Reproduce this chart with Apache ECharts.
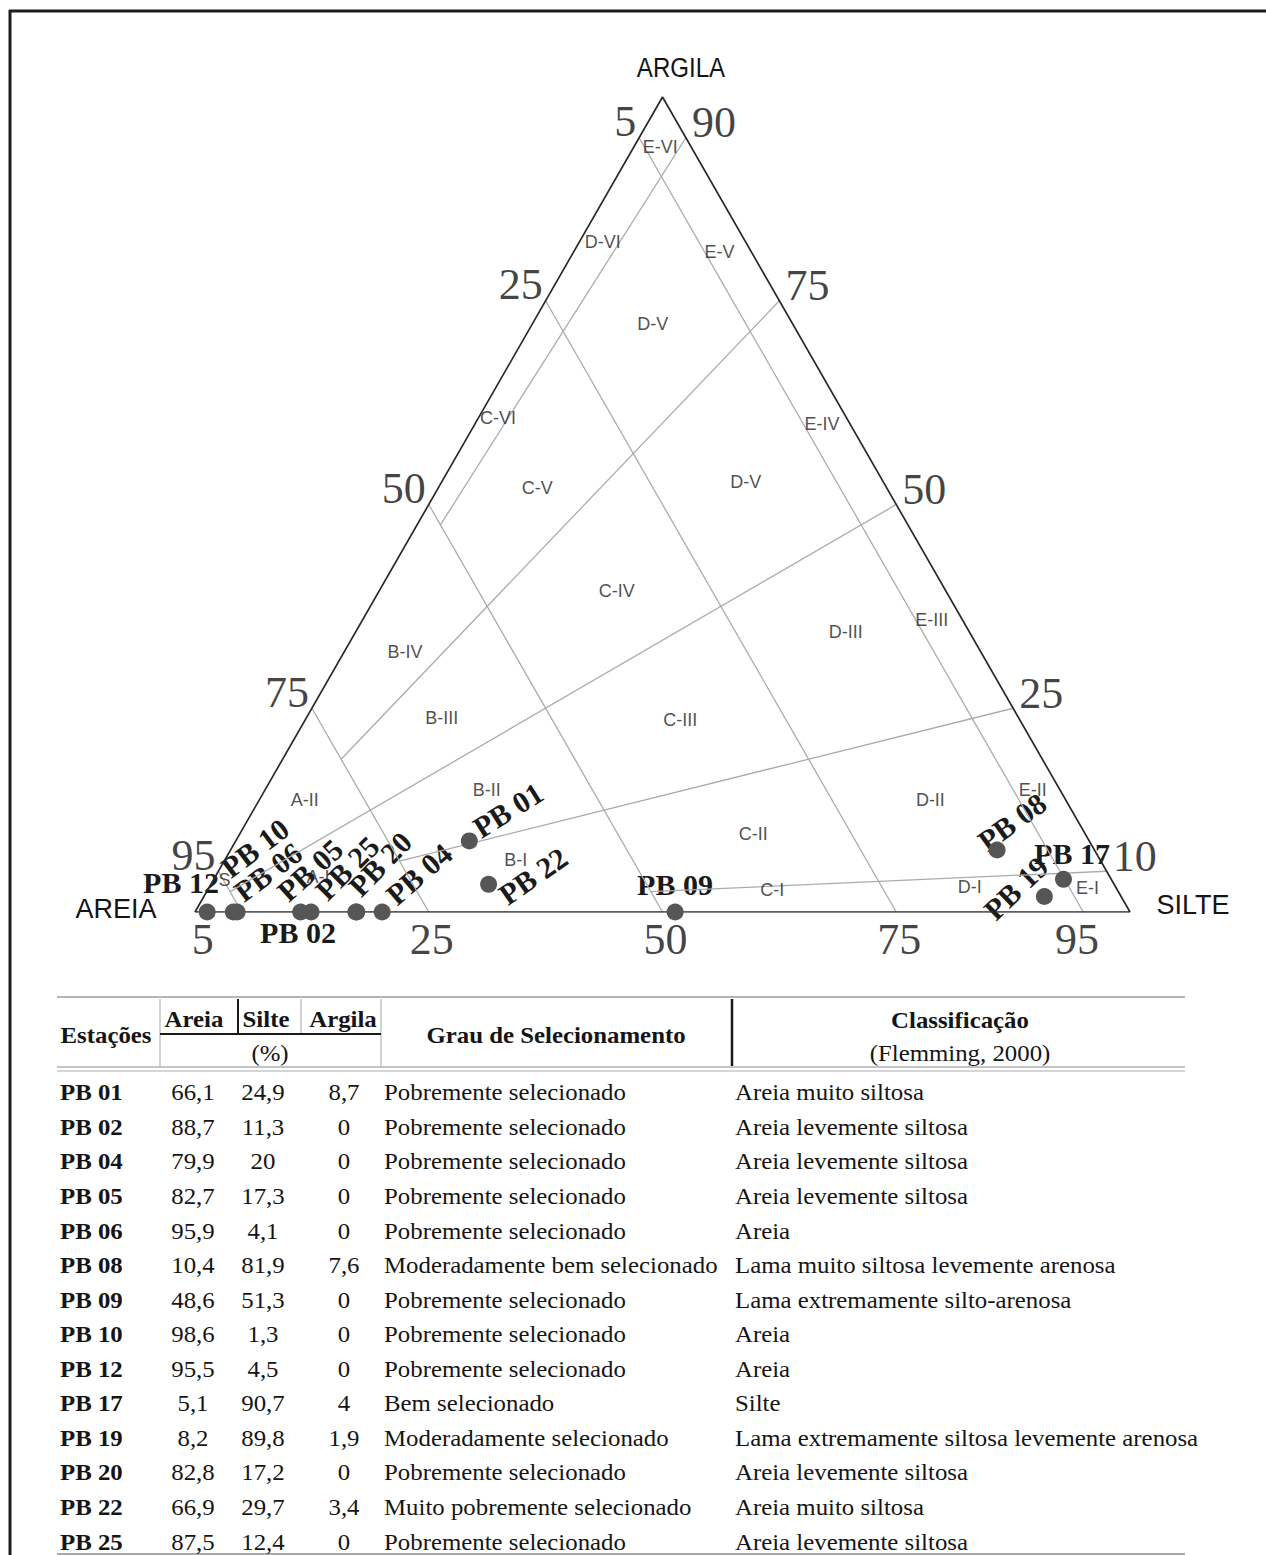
<!DOCTYPE html>
<html>
<head>
<meta charset="utf-8">
<script src="https://cdn.jsdelivr.net/npm/echarts@6/dist/echarts.min.js"></script>
<style>
  html, body { margin: 0; padding: 0; background: #ffffff; }
  #chart { width: 1266px; height: 1555px; }
</style>
</head>
<body>
<div id="chart"></div>
<script>
// Grain-size composition of the stations (%)
const stations = ['PB 01','PB 02','PB 04','PB 05','PB 06','PB 08','PB 09','PB 10','PB 12','PB 17','PB 19','PB 20','PB 22','PB 25'];
const areia  = [66.1, 88.7, 79.9, 82.7, 95.9, 10.4, 48.6, 98.6, 95.5, 5.1, 8.2, 82.8, 66.9, 87.5];
const silte  = [24.9, 11.3, 20,   17.3, 4.1,  81.9, 51.3, 1.3,  4.5,  90.7, 89.8, 17.2, 29.7, 12.4];
const argila = [8.7,  0,    0,    0,    0,    7.6,  0,    0,    0,    4,    1.9,  0,    3.4,  0];
const selecionamento = [
  'Pobremente selecionado', 'Pobremente selecionado', 'Pobremente selecionado',
  'Pobremente selecionado', 'Pobremente selecionado', 'Moderadamente bem selecionado',
  'Pobremente selecionado', 'Pobremente selecionado', 'Pobremente selecionado',
  'Bem selecionado', 'Moderadamente selecionado', 'Pobremente selecionado',
  'Muito pobremente selecionado', 'Pobremente selecionado'
];
const classificacao = [
  'Areia muito siltosa', 'Areia levemente siltosa', 'Areia levemente siltosa',
  'Areia levemente siltosa', 'Areia', 'Lama muito siltosa levemente arenosa',
  'Lama extremamente silto-arenosa', 'Areia', 'Areia', 'Silte',
  'Lama extremamente siltosa levemente arenosa', 'Areia levemente siltosa',
  'Areia muito siltosa', 'Areia levemente siltosa'
];

// Flemming (2000) class limits
const sandLimits = [95, 75, 50, 25, 5];                 // sand % (classes S, A, B, C, D, E)
const mudRatioLimits = [0.5, 0.25, 0.75, 0.05, 0.95];  // clay share of the mud fraction (I..VI)
const mudRatioStartSand = [95, 75, 75, 50, 50];        // sand % where each ratio line begins

// Edge tick labels
const leftTickText = ['5', '25', '50', '75', '95'];     // sand
const leftTickAt = [5, 25, 50, 75, 95];
const rightTickText = ['90', '75', '50', '25', '10'];   // clay
const rightTickAt = [95, 75, 50, 25, 5];
const bottomTickText = ['5', '25', '50', '75', '95'];   // silt
const bottomTickAt = [0.5, 25, 50, 75, 94];

// Zone names, anchored by [silt %, clay %]
const zoneNames = ['E-VI','D-VI','E-V','D-V','C-VI','C-V','D-V','E-IV','C-IV','B-IV','D-III','E-III','B-III','C-III','A-II','B-II','D-II','E-II','C-II','B-I','C-I','D-I','E-I','S','A-I'];
const zoneAnchors = [[2.8,93.9],[2.5,82.2],[15.6,81.0],[12.9,72.1],[2.1,60.6],[10.6,52.0],[32.5,52.8],[37.1,59.9],[25.4,39.4],[6.5,31.9],[52.4,34.4],[60.9,35.8],[14.5,23.8],[40.1,23.6],[4.9,13.7],[23.7,15.0],[71.8,13.7],[82.1,15.0],[54.9,9.6],[31.1,6.4],[60.4,2.7],[81.3,3.1],[94.0,2.9],[1.2,3.9],[11.0,4.3]];

// Station label placement: [x, y, rotation in degrees]
const stationLabelLayout = {
  'PB 12': [181, 882, 0],   'PB 10': [255, 848, 37],  'PB 06': [268, 872, 37],
  'PB 05': [310, 870, 42],  'PB 25': [347, 868, 45],  'PB 20': [380, 864, 46],
  'PB 04': [419, 874, 41],  'PB 01': [508, 810, 32],  'PB 22': [533, 876, 35],
  'PB 02': [298, 932, 0],   'PB 09': [675, 884, 0],   'PB 08': [1012, 822, 36],
  'PB 17': [1072, 853, 0],  'PB 19': [1016, 888, 44]
};

// ternary (sand, silt, clay) -> plane coordinates (0..100)
function toXY(sand, silt, clay) {
  const t = sand + silt + clay;
  const cl = clay / t * 100;
  return [silt / t * 100 + cl / 2, cl];
}

const boundaryLines = [];
sandLimits.forEach(s => {
  boundaryLines.push({ coords: [toXY(s, 0, 100 - s), toXY(s, 100 - s, 0)] });
});
mudRatioLimits.forEach((f, i) => {
  const s0 = mudRatioStartSand[i];
  boundaryLines.push({ coords: [toXY(s0, (100 - s0) * (1 - f), (100 - s0) * f), toXY(0, 100 * (1 - f), 100 * f)] });
});

const outline = [toXY(100, 0, 0), toXY(0, 100, 0), toXY(0, 0, 100), toXY(100, 0, 0)];

const samplePoints = stations.map((n, i) => ({ name: n, value: toXY(areia[i], silte[i], argila[i]) }));

const zonePoints = zoneNames.map((n, i) => {
  const [si, cl] = zoneAnchors[i];
  return { name: n, value: toXY(100 - si - cl, si, cl) };
});

const leftTicks = leftTickAt.map((s, i) => ({ name: leftTickText[i], value: toXY(s, 0, 100 - s) }));
const rightTicks = rightTickAt.map((c, i) => ({ name: rightTickText[i], value: toXY(0, 100 - c, c) }));
const bottomTicks = bottomTickAt.map((s, i) => ({ name: bottomTickText[i], value: toXY(100 - s, s, 0) }));

const SERIF = '"Liberation Serif", "Times New Roman", serif';
const SANS = '"Liberation Sans", Arial, sans-serif';

function tickSeries(data, align, offset) {
  return {
    type: 'scatter', data, symbolSize: 1, silent: true, z: 4,
    itemStyle: { color: 'rgba(0,0,0,0)' },
    label: {
      show: true, position: 'inside', formatter: '{b}', align, verticalAlign: 'middle', offset,
      fontFamily: SERIF, fontSize: 44, lineHeight: 24, color: '#111111'
    }
  };
}

// ---- graphic elements: frame, vertex names, station labels, table ----
const graphics = [];
function gLine(x1, y1, x2, y2, stroke, w) {
  graphics.push({ type: 'line', silent: true, shape: { x1, y1, x2, y2 }, style: { stroke, lineWidth: w } });
}
function gText(text, x, y, font, align, rot, fill, sx) {
  graphics.push({
    type: 'text', silent: true, x, y, rotation: (rot || 0) * Math.PI / 180, scaleX: sx || 1,
    style: { text, font, fill: fill || '#151515', textAlign: align || 'center', textVerticalAlign: 'middle', align: align || 'center', verticalAlign: 'middle' }
  });
}

// frame
gLine(9, 11, 1266, 11, '#1c1c1c', 3);
gLine(10, 10, 10, 1555, '#1c1c1c', 3);

// vertex names
gText('ARGILA', 681, 67, '28px ' + SANS, 'center', 0, '#151515', 0.86);
gText('AREIA', 116, 909, '27px ' + SANS, 'center');
gText('SILTE', 1193, 905, '27px ' + SANS, 'center');

// station labels
stations.forEach(n => {
  const [x, y, r] = stationLabelLayout[n];
  gText(n, x, y, 'bold 30px ' + SERIF, 'center', r, '#1a1a1a');
});

// table
const fmt = v => String(v).replace('.', ',');
const bodyFont = '24px ' + SERIF;
const boldFont = 'bold 24px ' + SERIF;
const TX = 1.035;

gLine(57, 997, 1185, 997, '#b5b5b5', 2);
gLine(160, 999, 160, 1067, '#c4c4c4', 1.5);
gLine(381, 999, 381, 1067, '#c4c4c4', 1.5);
gLine(301, 999, 301, 1034, '#c4c4c4', 1.5);
gLine(238, 999, 238, 1034, '#1a1a1a', 2);
gLine(160, 1034, 381, 1034, '#1a1a1a', 2);
gLine(732, 999, 732, 1066, '#1a1a1a', 2.5);
gLine(57, 1067, 1185, 1067, '#b0b0b0', 1.5);
gLine(57, 1071, 1185, 1071, '#c8c8c8', 1.5);
gLine(57, 1554, 1185, 1554, '#a8a8a8', 2);

gText('Estações', 106, 1035, boldFont, 'center', 0, null, TX);
gText('Areia', 194, 1019, boldFont, 'center', 0, null, TX);
gText('Silte', 266, 1019, boldFont, 'center', 0, null, TX);
gText('Argila', 343, 1019, boldFont, 'center', 0, null, TX);
gText('(%)', 270, 1053, bodyFont, 'center', 0, null, TX);
gText('Grau de Selecionamento', 556, 1035, boldFont, 'center', 0, null, TX);
gText('Classificação', 960, 1020, boldFont, 'center', 0, null, TX);
gText('(Flemming, 2000)', 960, 1053, bodyFont, 'center', 0, null, TX);

stations.forEach((n, i) => {
  const y = 1092 + i * 34.55;
  gText(n, 60, y, boldFont, 'left', 0, null, TX);
  gText(fmt(areia[i]), 193, y, bodyFont, 'center', 0, null, TX);
  gText(fmt(silte[i]), 263, y, bodyFont, 'center', 0, null, TX);
  gText(fmt(argila[i]), 344, y, bodyFont, 'center', 0, null, TX);
  gText(selecionamento[i], 384, y, bodyFont, 'left', 0, null, TX);
  gText(classificacao[i], 735, y, bodyFont, 'left', 0, null, TX);
});

const chart = echarts.init(document.getElementById('chart'), null, { renderer: 'svg' });
chart.setOption({
  animation: false,
  backgroundColor: '#ffffff',
  grid: { left: 195, top: 97, width: 935, height: 815 },
  xAxis: { type: 'value', min: 0, max: 100, show: false },
  yAxis: { type: 'value', min: 0, max: 100, show: false },
  series: [
    {
      type: 'lines', coordinateSystem: 'cartesian2d', silent: true, z: 1,
      lineStyle: { color: '#ababab', width: 1.3, opacity: 1 },
      data: boundaryLines
    },
    {
      type: 'line', data: outline, symbol: 'none', silent: true, z: 2,
      lineStyle: { color: '#2a2a2a', width: 1.7 }
    },
    {
      type: 'scatter', data: zonePoints, symbolSize: 1, silent: true, z: 3,
      itemStyle: { color: 'rgba(0,0,0,0)' },
      label: { show: true, position: 'inside', formatter: '{b}', fontFamily: SANS, fontSize: 18, color: '#222222' }
    },
    tickSeries(leftTicks, 'right', [-3, -16]),
    tickSeries(rightTicks, 'left', [6, -15]),
    tickSeries(bottomTicks, 'center', [3, 27]),
    {
      type: 'scatter', data: samplePoints, symbolSize: 17, z: 5, silent: true,
      itemStyle: { color: '#565656', opacity: 1 }
    }
  ],
  graphic: { elements: graphics }
});
</script>
</body>
</html>
